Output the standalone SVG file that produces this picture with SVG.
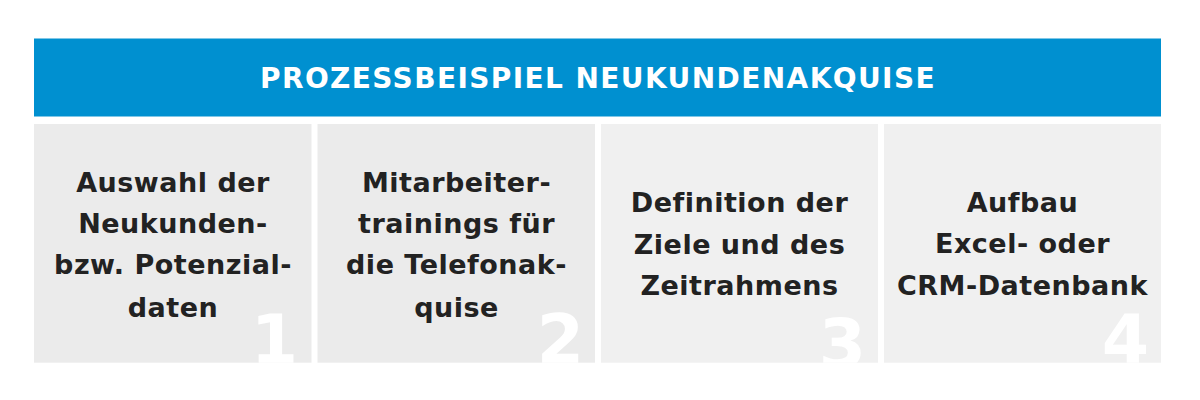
<svg xmlns="http://www.w3.org/2000/svg" width="1200" height="400" viewBox="0 0 1200 400">
<style>
.hdr{fill:#0090d0}
.p1{fill:#ebebeb}
.p2{fill:#f0f0f0}
.ht{font-family:"DejaVu Sans",Verdana,sans-serif;font-weight:bold;font-size:28px;fill:#ffffff;letter-spacing:1.4px;text-anchor:middle}
.t{font-family:"DejaVu Sans",Verdana,sans-serif;font-weight:bold;font-size:27px;fill:#222222;letter-spacing:0.5px;text-anchor:middle}
.n{font-family:"DejaVu Sans",Verdana,sans-serif;font-weight:bold;font-size:68px;fill:#ffffff;text-anchor:end}
</style>
<defs>
<clipPath id="c1"><rect x="34" y="124" width="277.5" height="238.7"/></clipPath>
<clipPath id="c2"><rect x="317.5" y="124" width="277.5" height="238.7"/></clipPath>
<clipPath id="c3"><rect x="601" y="124" width="277" height="238.7"/></clipPath>
<clipPath id="c4"><rect x="884" y="124" width="277" height="238.7"/></clipPath>
</defs>
<rect width="1200" height="400" fill="#ffffff"/>
<g id="header">
<rect class="hdr" x="34" y="38.5" width="1127" height="78"/>
<text class="ht" x="598" y="88">PROZESSBEISPIEL NEUKUNDENAKQUISE</text>
</g>
<g id="step1">
<rect class="p1" x="34" y="124" width="277.5" height="238.7"/>
<text class="t" x="173" y="191.7">Auswahl der</text>
<text class="t" x="173" y="232.9">Neukunden-</text>
<text class="t" x="173" y="274.3">bzw. Potenzial-</text>
<text class="t" x="173" y="316.5">daten</text>
<text class="n" x="298" y="363" clip-path="url(#c1)">1</text>
</g>
<g id="step2">
<rect class="p1" x="317.5" y="124" width="277.5" height="238.7"/>
<text class="t" x="456.5" y="191.7">Mitarbeiter-</text>
<text class="t" x="456.5" y="232.9">trainings für</text>
<text class="t" x="456.5" y="274.3">die Telefonak-</text>
<text class="t" x="456.5" y="316.5">quise</text>
<text class="n" x="584" y="363" clip-path="url(#c2)">2</text>
</g>
<g id="step3">
<rect class="p2" x="601" y="124" width="277" height="238.7"/>
<text class="t" x="739.5" y="212.3">Definition der</text>
<text class="t" x="739.5" y="253.5">Ziele und des</text>
<text class="t" x="739.5" y="295">Zeitrahmens</text>
<text class="n" x="866" y="367" clip-path="url(#c3)">3</text>
</g>
<g id="step4">
<rect class="p2" x="884" y="124" width="277" height="238.7"/>
<text class="t" x="1022.5" y="212">Aufbau</text>
<text class="t" x="1022.5" y="253.3">Excel- oder</text>
<text class="t" x="1022.5" y="294.5">CRM-Datenbank</text>
<text class="n" x="1149" y="363" clip-path="url(#c4)">4</text>
</g>
<g id="connectors"/>
</svg>
